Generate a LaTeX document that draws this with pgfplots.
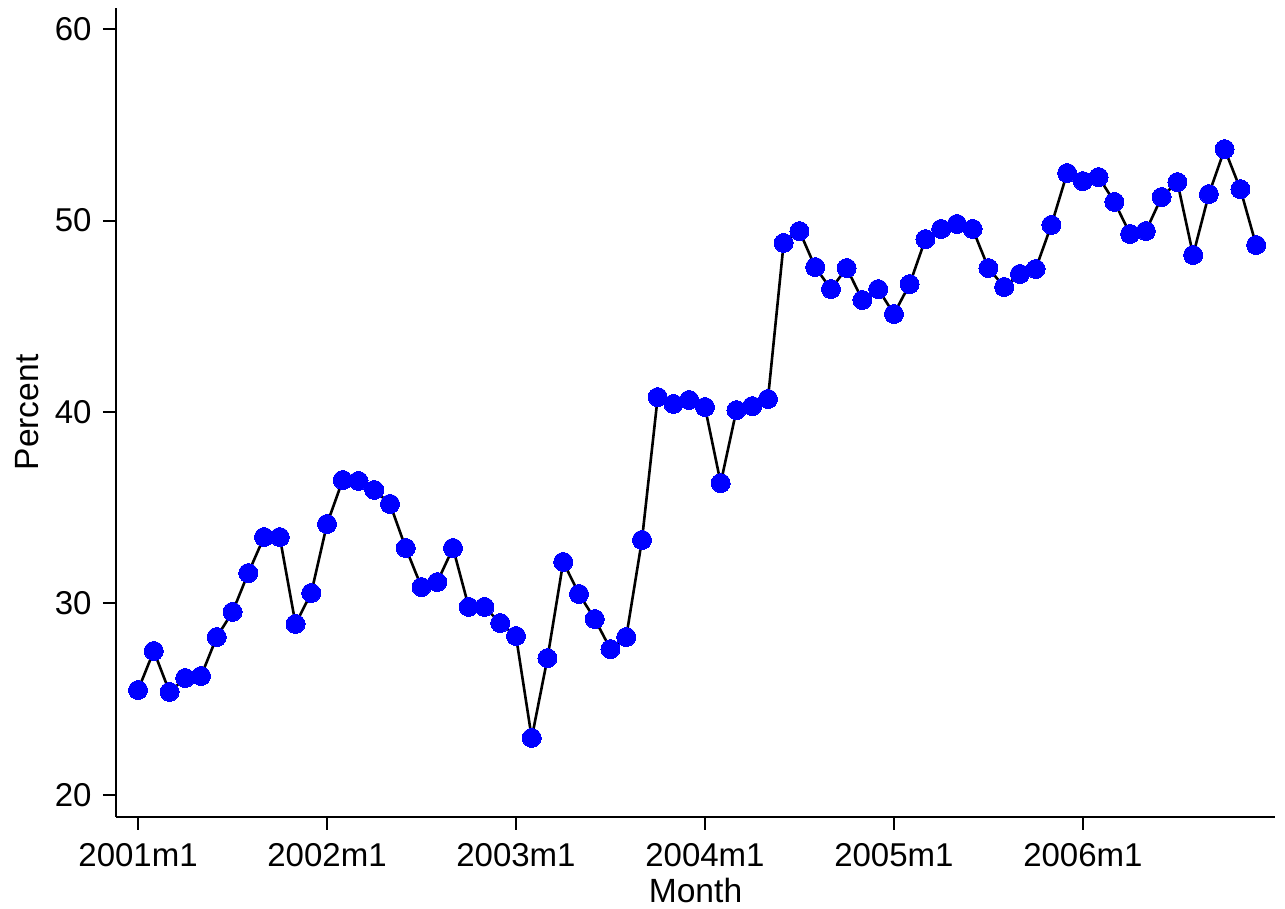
\documentclass[border=0pt]{standalone}
\usepackage{pgfplots}
\pgfplotsset{compat=1.18}
\usepackage{fontspec}
\setmainfont{Liberation Sans}
\begin{document}
\fontsize{16.5pt}{19.5pt}\selectfont
\begin{tikzpicture}
\useasboundingbox (-58pt,-46pt) rectangle (584.5pt,408.5pt);
\begin{axis}[
  scale only axis,
  width=579.5pt, height=404.5pt,
  xmin=-1.4, xmax=72.2, ymin=18.85, ymax=61.1,
  axis x line=bottom, axis y line=left,
  axis line style={-, line width=1pt},
  xtick={0,12,24,36,48,60},
  xticklabels={2001m1,2002m1,2003m1,2004m1,2005m1,2006m1},
  ytick={20,30,40,50,60},
  tick align=outside,
  major tick length=6.5pt,
  tick style={black, line width=1pt},
  /pgf/number format/assume math mode=true,
  ticklabel style={font=\fontsize{16.5pt}{19.5pt}\selectfont},
  xticklabel style={yshift=-1pt},
  xlabel={Month}, ylabel={Percent},
  label style={font=\fontsize{16.8pt}{20pt}\selectfont},
  xlabel style={at={(axis description cs:0.5,0)}, anchor=center, yshift=-36.5pt},
  ylabel style={at={(axis description cs:0,0.5)}, anchor=center, rotate=0, yshift=44.5pt},
  clip=false,
]
\addplot[black, line width=1.3pt, mark=*, mark size=4.75pt,
  mark options={draw=blue, fill=blue, line width=0pt}] coordinates {
(0,25.48) (1,27.52) (2,25.38) (3,26.11) (4,26.21) (5,28.25) (6,29.56) (7,31.59)
(8,33.47) (9,33.47) (10,28.93) (11,30.55) (12,34.15) (13,36.45) (14,36.40) (15,35.93)
(16,35.20) (17,32.90) (18,30.86) (19,31.12) (20,32.90) (21,29.82) (22,29.82) (23,28.98)
(24,28.30) (25,22.98) (26,27.15) (27,32.17) (28,30.50) (29,29.19) (30,27.62) (31,28.25)
(32,33.32) (33,40.78) (34,40.42) (35,40.63) (36,40.26) (37,36.29) (38,40.10) (39,40.31)
(40,40.68) (41,48.83) (42,49.45) (43,47.57) (44,46.42) (45,47.52) (46,45.85) (47,46.42)
(48,45.12) (49,46.68) (50,49.03) (51,49.56) (52,49.82) (53,49.56) (54,47.52) (55,46.53)
(56,47.21) (57,47.47) (58,49.77) (59,52.48) (60,52.06) (61,52.27) (62,50.97) (63,49.30)
(64,49.45) (65,51.23) (66,52.01) (67,48.20) (68,51.38) (69,53.73) (70,51.64) (71,48.72)
};
\end{axis}
\end{tikzpicture}
\end{document}
